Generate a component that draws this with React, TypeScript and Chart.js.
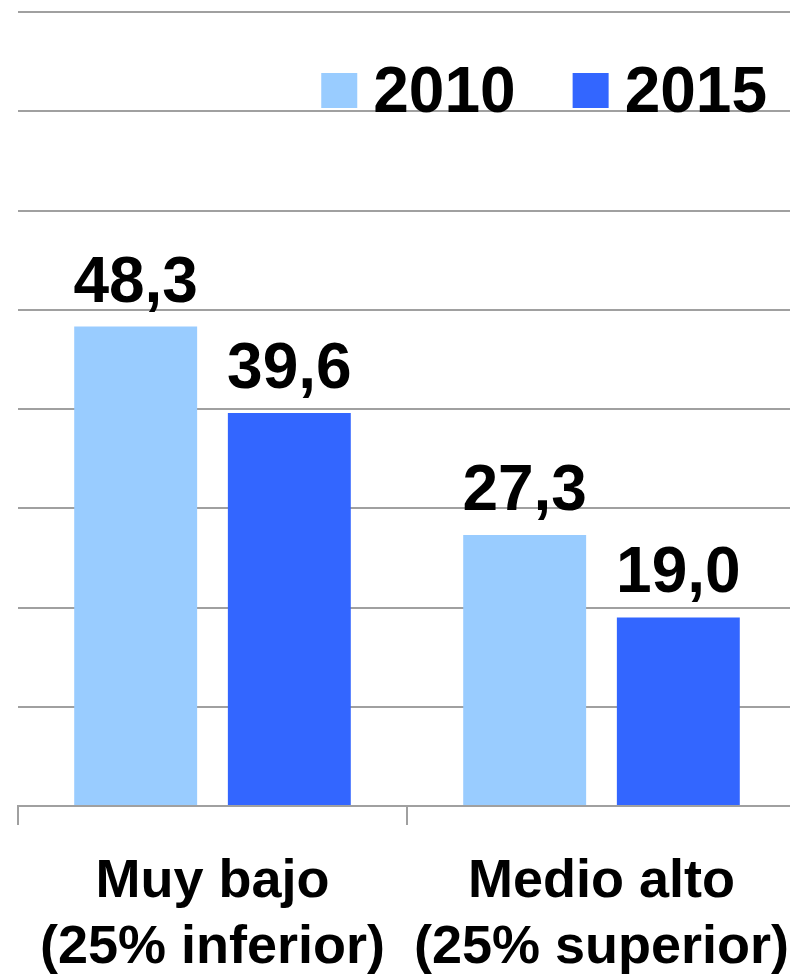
import React, { useEffect, useRef } from "react";
import { Chart, registerables } from "chart.js";

Chart.register(...registerables);

const categories: string[][] = [
  ["Muy bajo", "(25% inferior)"],
  ["Medio alto", "(25% superior)"],
];
const series2010: number[] = [48.3, 27.3];
const series2015: number[] = [39.6, 19.0];
const seriesLabels: string[] = ["2010", "2015"];
const seriesColors: string[] = ["#99CCFF", "#3366FF"];

const FONT = "'Liberation Sans', Arial, sans-serif";
const GRID = "#a0a0a0";

const valueLabelPlugin = {
  id: "valueLabels",
  afterDatasetsDraw(chart: any) {
    const ctx = chart.ctx;
    ctx.save();
    ctx.font = `bold 64px ${FONT}`;
    ctx.fillStyle = "#000";
    ctx.textAlign = "center";
    ctx.textBaseline = "alphabetic";
    chart.data.datasets.forEach((ds: any, i: number) => {
      const meta = chart.getDatasetMeta(i);
      meta.data.forEach((bar: any, j: number) => {
        const v = ds.data[j] as number;
        ctx.fillText(v.toFixed(1).replace(".", ","), bar.x, bar.y - 25);
      });
    });
    ctx.restore();
  },
};

const legendPlugin = {
  id: "customLegend",
  afterDatasetsDraw(chart: any) {
    const ctx = chart.ctx;
    const area = chart.chartArea;
    ctx.save();
    ctx.font = `bold 64px ${FONT}`;
    ctx.textBaseline = "alphabetic";
    ctx.textAlign = "left";
    const box = 36;
    const gap = 16;
    const itemGap = 57;
    const items = chart.data.datasets.map((ds: any) => ({
      text: ds.label as string,
      color: ds.backgroundColor as string,
      w: ctx.measureText(ds.label).width,
    }));
    const total =
      items.reduce((s: number, it: any) => s + box + gap + it.w, 0) +
      itemGap * (items.length - 1);
    let x = area.right - 29 - total;
    const boxTop = area.top + 61;
    const baseline = area.top + 100;
    items.forEach((it: any) => {
      ctx.fillStyle = it.color;
      ctx.fillRect(x, boxTop, box, 35);
      ctx.fillStyle = "#000";
      ctx.fillText(it.text, x + box + gap, baseline);
      x += box + gap + it.w + itemGap;
    });
    ctx.restore();
  },
};

export default function App() {
  const ref = useRef<HTMLCanvasElement | null>(null);
  useEffect(() => {
    if (!ref.current) return;
    const chart = new Chart(ref.current, {
      type: "bar",
      data: {
        labels: categories,
        datasets: [
          {
            label: seriesLabels[0],
            data: series2010,
            backgroundColor: seriesColors[0],
            borderWidth: 0,
          },
          {
            label: seriesLabels[1],
            data: series2015,
            backgroundColor: seriesColors[1],
            borderWidth: 0,
          },
        ],
      },
      options: {
        animation: false,
        responsive: false,
        events: [],
        layout: { padding: { left: 18, right: 4, top: 12, bottom: 0 } },
        datasets: {
          bar: { categoryPercentage: 0.79, barPercentage: 0.8 },
        },
        plugins: {
          legend: { display: false },
          tooltip: { enabled: false },
        },
        scales: {
          x: {
            offset: true,
            afterFit: (scale: any) => {
              scale.paddingLeft = 0;
              scale.paddingRight = 0;
            },
            grid: {
              display: true,
              offset: true,
              drawOnChartArea: false,
              drawTicks: true,
              tickLength: 19,
              color: GRID,
              lineWidth: 2,
            },
            border: { display: true, color: GRID, width: 2 },
            ticks: {
              autoSkip: false,
              maxRotation: 0,
              minRotation: 0,
              padding: 24,
              color: "#000",
              font: { family: FONT, size: 54, weight: "bold", lineHeight: 66 / 54 },
            },
          },
          y: {
            min: 0,
            max: 80,
            ticks: { display: false, stepSize: 10 },
            grid: { color: GRID, lineWidth: 2, drawTicks: false },
            border: { display: false },
          },
        },
      },
      plugins: [valueLabelPlugin, legendPlugin],
    } as any);
    return () => chart.destroy();
  }, []);
  return (
    <div
      style={{
        position: "absolute",
        left: 0,
        top: 0,
        width: 790,
        height: 977,
        overflow: "hidden",
        background: "#fff",
      }}
    >
      <canvas ref={ref} width={800} height={1005} style={{ display: "block" }} />
    </div>
  );
}
